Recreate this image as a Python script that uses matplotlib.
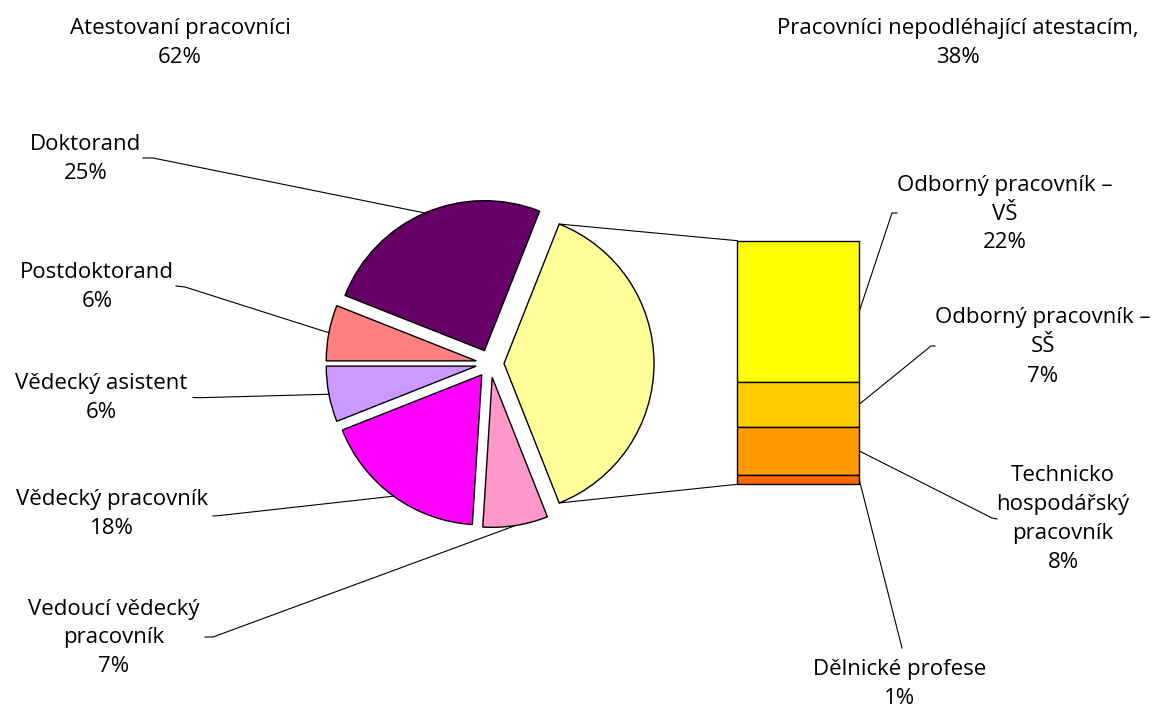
import numpy as np
import matplotlib.pyplot as plt

plt.rcParams['font.family'] = ['Open Sans', 'DejaVu Sans']

W, H = 1152, 709

# atestovaní pracovníci (pie slices)
att_labels = ['Doktorand', 'Postdoktorand', 'Vědecký asistent',
              'Vědecký pracovník', 'Vedoucí vědecký\npracovník']
att_values = [25, 6, 6, 18, 7]
att_colors = ['#660066', '#FF8080', '#CC99FF', '#FF00FF', '#FF99CC']

# pracovníci nepodléhající atestacím (split out into the bar)
other_label = 'Pracovníci nepodléhající atestacím,'
other_color = '#FFFF99'
bar_labels = ['Odborný pracovník –\nVŠ', 'Odborný pracovník –\nSŠ',
              'Technicko\nhospodářský\npracovník', 'Dělnické profese']
bar_values = [22, 7, 7.6, 1.4]
bar_colors = ['#FFFF00', '#FFCC00', '#FF9900', '#FF6600']

group_label = 'Atestovaní pracovníci'

# layout, in pixels from the top left corner
att_text_pos = [(86, 159), (97, 287), (101, 398), (112, 514), (114, 638)]
att_knees = [[(143, 158), (153, 158)], [(176, 286), (185, 287)],
             [(193, 397.5), (200, 397.7)], [(213, 516), (220, 515.5)],
             [(205, 637), (213, 637)]]
bar_text_pos = [(1005, 214), (1043, 347), (1063, 519), (900, 684)]
bar_knees = [[(897, 213), (892, 213)], [(935, 346), (931, 346)],
             [(997, 519), (992, 518)], [(902, 648), (902, 648)]]
pie_center = (490, 363.5)
pie_radius = 150
explode_px = 14
bar_box = (737.3, 240.7, 122, 243.6)  # left, top, width, height


def P(x, y):
    return (x, H - y)


fig = plt.figure(figsize=(W / 100, H / 100), dpi=100)
ax = fig.add_axes([0, 0, 1, 1])

other_total = sum(bar_values)
pie_values = [other_total] + att_values
pie_colors = [other_color] + att_colors
total = sum(pie_values)
start = -other_total / total * 180

wedges, _ = ax.pie(pie_values, colors=pie_colors, startangle=start,
                   counterclock=True, radius=pie_radius,
                   center=P(*pie_center), explode=[explode_px] * len(pie_values),
                   wedgeprops=dict(edgecolor='black', linewidth=1.0))
ax.set_xlim(0, W)
ax.set_ylim(0, H)
ax.axis('off')

# bar of the split slice
bl, bt, bw, bh = bar_box
bax = fig.add_axes([bl / W, (H - bt - bh) / H, bw / W, bh / H])
bax.set_xlim(-0.5, 0.5)
bax.set_ylim(0, other_total)
bax.axis('off')
bottoms = other_total - np.cumsum(bar_values)
for v, b, c in zip(bar_values, bottoms, bar_colors):
    bax.bar(0, v, width=1, bottom=b, color=c, edgecolor='black',
            linewidth=1.0, clip_on=False)


def to_ax(pt):
    return ax.transData.inverted().transform(bax.transData.transform(pt))


def arc_point(w, theta):
    t = np.deg2rad(theta)
    return (w.center[0] + w.r * np.cos(t), w.center[1] + w.r * np.sin(t))


# connector lines pie -> bar
yw = wedges[0]
for theta, yb in [(yw.theta2, other_total), (yw.theta1, 0)]:
    a = arc_point(yw, theta)
    b = to_ax((-0.5, yb))
    ax.plot([a[0], b[0]], [a[1], b[1]], color='black', lw=0.8)

fs = 16
ls = 1.5

# labels of pie slices
for w, lab, v, pos, knees in zip(wedges[1:], att_labels, att_values,
                                 att_text_pos, att_knees):
    end = arc_point(w, (w.theta1 + w.theta2) / 2)
    pts = [P(*k) for k in knees] + [end]
    ax.plot([p[0] for p in pts], [p[1] for p in pts], color='black', lw=0.8)
    ax.text(*P(*pos), f'{lab}\n{v / total * 100:.0f}%', ha='center',
            va='center', multialignment='center', fontsize=fs, linespacing=ls)

# labels of bar segments
for lab, v, b, pos, knees in zip(bar_labels, bar_values, bottoms,
                                 bar_text_pos, bar_knees):
    end = to_ax((0.5, b + v / 2))
    pts = [P(*k) for k in knees] + [end]
    ax.plot([p[0] for p in pts], [p[1] for p in pts], color='black', lw=0.8)
    ax.text(*P(*pos), f'{lab}\n{v / total * 100:.0f}%', ha='center',
            va='center', multialignment='center', fontsize=fs, linespacing=ls)

# group labels on top
ax.text(*P(180, 43), f'{group_label}\n{sum(att_values) / total * 100:.0f}%',
        ha='center', va='center', fontsize=fs, linespacing=ls)
ax.text(*P(958, 43), f'{other_label}\n{other_total / total * 100:.0f}%',
        ha='center', va='center', fontsize=fs, linespacing=ls)

fig.savefig('out.png', dpi=100, facecolor='white')
